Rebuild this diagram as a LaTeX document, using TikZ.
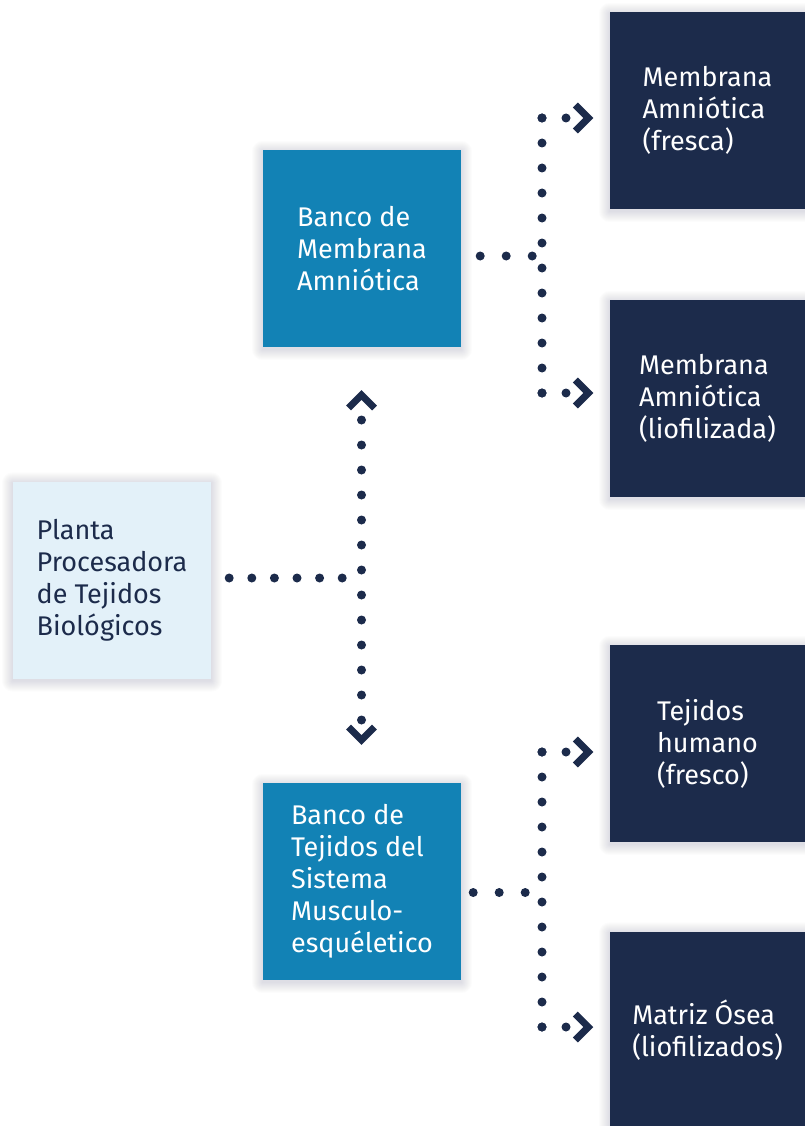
\documentclass[tikz,border=0pt]{standalone}
\usepackage{fontspec}
\setmainfont{Fira Sans}
\definecolor{navy}{HTML}{1C2B4B}
\definecolor{midblue}{HTML}{1282B5}
\definecolor{lightblue}{HTML}{E3F1F9}
\pgfdeclarelayer{bg}
\pgfdeclarelayer{shade}
\pgfsetlayers{bg,shade,main}
\newcommand\softshadow[1]{%
  \foreach \r in {1,...,11}{%
    \fill[navy, opacity=0.011, rounded corners=\r pt]
      ([shift={(-\r pt,-\r pt-2pt)}]#1.south west) rectangle ([shift={(\r pt,\r pt-2pt)}]#1.north east);}}
\begin{document}
\begin{tikzpicture}[x=1pt,y=-1pt,
  box/.style={rectangle, minimum width=198pt, minimum height=197pt, inner sep=0pt,
    align=left, font=\fontsize{27}{32}\selectfont},
  lightbox/.style={box, fill=lightblue, text=navy},
  midbox/.style={box, fill=midblue, text=white},
  darkbox/.style={box, fill=navy, text=white, minimum width=195pt},
  dotline/.style={draw=navy, line width=9pt, line cap=round, dash pattern=on 0pt off #1},
  chev/.pic={\draw[draw=navy, line width=7pt, line join=miter, line cap=butt] (-13,-13) -- (0,0) -- (-13,13);}
]
\useasboundingbox (0,0) rectangle (805,1126);
\clip (0,0) rectangle (805,1126);
\begin{pgfonlayer}{bg}
\fill[white] (0,0) rectangle (805,1126);
\end{pgfonlayer}

% boxes
\node[lightbox] (planta) at (112,580) {Planta\\Procesadora\\de Tejidos\\Biológicos};
\node[midbox] (bankM) at (362,248.5) {Banco de\\Membrana\\Amniótica};
\node[midbox] (bankT) at (362,881.5) {Banco de\\Tejidos del\\Sistema\\Musculo-\\esquéletico};
\node[darkbox] (d1) at (707.5,110.5) {Membrana\\Amniótica\\(fresca)};
\node[darkbox] (d2) at (707.5,398.5) {Membrana\\Amniótica\\(liofilizada)};
\node[darkbox] (d3) at (707.5,743.5) {Tejidos\\humano\\(fresco)};
\node[darkbox] (d4) at (707.5,1030) {Matriz Ósea\\(liofilizados)};

\begin{pgfonlayer}{shade}
\softshadow{planta}
\softshadow{bankM}
\softshadow{bankT}
\softshadow{d1}
\softshadow{d2}
\softshadow{d3}
\softshadow{d4}
\end{pgfonlayer}

% junction coordinates
\coordinate (jv) at (361.5,578);
\coordinate (up) at (361.5,420);
\coordinate (dn) at (361.5,720);
\coordinate (r1top) at (542,118);
\coordinate (r1bot) at (542,393);
\coordinate (r2top) at (542,752);
\coordinate (r2bot) at (542,1027);

% planta -> banks
\draw[dotline=22.6pt] ([xshift=18pt,yshift=2pt]planta.east) -- ([xshift=-18pt]jv);
\draw[dotline=25pt] (up) -- ([yshift=-0.5pt]dn);
\pic[rotate=90] at (361.5,395) {chev};
\pic[rotate=-90] at (361.5,740) {chev};

% bankM -> d1, d2
\draw[dotline=26pt] ([xshift=19pt,yshift=-7.5pt]bankM.east) -- ([xshift=-9.5pt,yshift=-7.5pt]bankM.east -| r1top);
\draw[dotline=25pt] (r1top) -- ([yshift=-0.5pt]r1bot);
\draw[dotline=24pt] (r1top) -- ([xshift=24.5pt]r1top);
\draw[dotline=24pt] (r1bot) -- ([xshift=24.5pt]r1bot);
\pic at ([xshift=-21.5pt]d1.west |- r1top) {chev};
\pic at ([xshift=-21.5pt]d2.west |- r1bot) {chev};

% bankT -> d3, d4
\draw[dotline=26pt] ([xshift=12pt,yshift=-11pt]bankT.east) -- ([xshift=-16.5pt,yshift=-11pt]bankT.east -| r2top);
\draw[dotline=25pt] (r2top) -- ([yshift=-0.5pt]r2bot);
\draw[dotline=24pt] (r2top) -- ([xshift=24.5pt]r2top);
\draw[dotline=24pt] (r2bot) -- ([xshift=24.5pt]r2bot);
\pic at ([xshift=-21.5pt]d3.west |- r2top) {chev};
\pic at ([xshift=-21.5pt]d4.west |- r2bot) {chev};
\end{tikzpicture}
\end{document}
